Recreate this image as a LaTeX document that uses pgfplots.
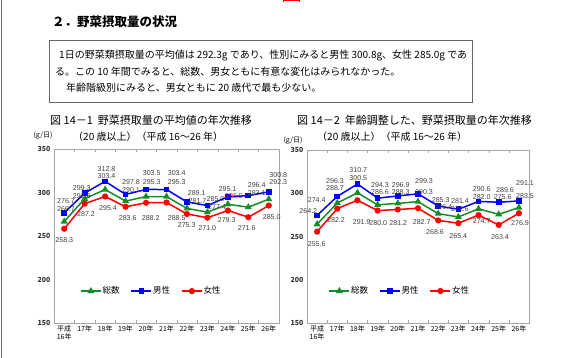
\documentclass[border=0pt]{standalone}
\usepackage{fontspec}
\setmainfont{Noto Sans CJK JP}
\newfontfamily\lab{Liberation Sans}
\usepackage{pgfplots}
\pgfplotsset{compat=1.18}
\definecolor{cgreen}{RGB}{20,140,40}
\definecolor{cblue}{RGB}{0,0,255}
\definecolor{cred}{RGB}{255,0,0}
\newcommand{\lbl}[3]{\node[font=\lab\fontsize{7.1}{8}\selectfont,text=black!75,inner sep=0pt] at ({#1pt},{358pt-#2pt}) {#3};}
\pgfplotsset{
  myax/.style={
    scale only axis, xmin=-0.5, xmax=10.5, ymin=150, ymax=350,
    ytick={150,200,...,350}, ytick style={draw=none},
    xtick={0,...,10},
    xticklabels={{平成\\16年},17年,18年,19年,20年,21年,22年,23年,24年,25年,26年},
    xticklabel style={align=center, font=\fontsize{7}{8.5}\selectfont, yshift=1pt},
    yticklabel style={font=\fontsize{7}{8}\selectfont\bfseries, text=black!80},
    /pgf/number format/assume math mode=true,
    major x tick style={draw=none},
    minor xtick={0.5,1.5,...,9.5}, minor tick length=3pt, tick align=inside,
    minor x tick style={gray!70},
    axis line style={gray!70},
    legend columns=3,
    legend style={draw=none, fill=none, font=\fontsize{8.5}{9}\selectfont, anchor=west,
      nodes={inner xsep=1pt, inner ysep=0pt},
      /tikz/every even column/.append style={column sep=10pt}},
    legend image code/.code={\draw[mark repeat=2,mark phase=2,#1] plot coordinates {(0pt,0pt) (10pt,0pt) (20pt,0pt)};},
  },
  tot/.style={cgreen, line width=1.5pt, mark=triangle*, mark size=2.6pt, mark options={solid}},
  mal/.style={cblue, line width=1.5pt, mark=square*, mark size=2.1pt},
  fem/.style={cred, line width=1.5pt, mark=*, mark size=2.3pt},
}
\begin{document}
\begin{tikzpicture}
\path[use as bounding box] (0,0) rectangle (562pt,358pt);
\draw[gray!80!black, line width=1pt] (1pt,0pt) -- (1pt,358pt);
\draw[red, line width=0.6pt] (283pt,356pt) -- (283pt,357.7pt) -- (299pt,357.7pt) -- (299pt,356pt);
% heading
\node[anchor=west, font=\fontsize{12.5}{14}\selectfont\bfseries, inner sep=0pt] at (52pt,{358pt-22pt}) {２．野菜摂取量の状況};
% box
\draw[gray!80!black, line width=0.7pt] (49pt,{358pt-40pt}) rectangle (472pt,{358pt-102pt});
\node[anchor=west, font=\fontsize{10}{12}\selectfont, inner sep=0pt] at (59pt,{358pt-56pt}) {1日の野菜類摂取量の平均値は 292.3g であり、性別にみると男性 300.8g、女性 285.0g であ};
\node[anchor=west, font=\fontsize{10}{12}\selectfont, inner sep=0pt] at (55pt,{358pt-72pt}) {る。この 10 年間でみると、総数、男女ともに有意な変化はみられなかった。};
\node[anchor=west, font=\fontsize{10}{12}\selectfont, inner sep=0pt] at (66pt,{358pt-88pt}) {年齢階級別にみると、男女ともに 20 歳代で最も少ない。};
% chart titles
\node[anchor=west, font=\fontsize{11}{12}\selectfont, inner sep=0pt] at (50pt,{358pt-120pt}) {図 14－1\ \ 野菜摂取量の平均値の年次推移};
\node[anchor=west, font=\fontsize{10}{12}\selectfont, inner sep=0pt] at (73pt,{358pt-137pt}) {（20 歳以上）（平成 16～26 年）};
\node[anchor=west, font=\fontsize{11}{12}\selectfont, inner sep=0pt] at (297pt,{358pt-120pt}) {図 14－2\ \ 年齢調整した、野菜摂取量の年次推移};
\node[anchor=west, font=\fontsize{10}{12}\selectfont, inner sep=0pt] at (317pt,{358pt-137pt}) {（20 歳以上）（平成 16～26 年）};
\node[font=\fontsize{7}{8}\selectfont, inner sep=0pt] at (43pt,{358pt-136pt}) {(g/日)};
\node[font=\fontsize{7}{8}\selectfont, inner sep=0pt] at (293pt,{358pt-141pt}) {(g/日)};

% ---------- chart 1
\begin{axis}[myax, at={(54pt,35pt)}, anchor=south west, width=225pt, height=174pt,
  legend style={at={(0.102,0.183)}}]
\addplot[tot] coordinates {(0,266.7)(1,292.8)(2,303.4)(3,290.1)(4,295.3)(5,295.3)(6,281.7)(7,277.4)(8,286.5)(9,283.1)(10,292.3)};
\addplot[mal] coordinates {(0,276.7)(1,299.3)(2,312.8)(3,297.8)(4,303.5)(5,303.4)(6,289.1)(7,285.0)(8,295.1)(9,296.4)(10,300.8)};
\addplot[fem] coordinates {(0,258.3)(1,287.2)(2,295.4)(3,283.6)(4,288.2)(5,288.5)(6,275.3)(7,271.0)(8,279.3)(9,271.6)(10,285.0)};
\legend{総数,男性,女性}
\end{axis}

% ---------- chart 2
\begin{axis}[myax, at={(307pt,35pt)}, anchor=south west, width=222pt, height=173pt,
  legend style={at={(0.083,0.185)}}]
\addplot[tot] coordinates {(0,264.2)(1,288.7)(2,300.5)(3,286.6)(4,288.3)(5,290.3)(6,276.4)(7,272.6)(8,282.0)(9,275.6)(10,283.5)};
\addplot[mal] coordinates {(0,274.4)(1,296.3)(2,310.7)(3,294.3)(4,296.9)(5,299.3)(6,285.3)(7,281.4)(8,290.6)(9,289.6)(10,291.1)};
\addplot[fem] coordinates {(0,255.6)(1,282.2)(2,291.9)(3,280.0)(4,281.2)(5,282.7)(6,268.6)(7,265.4)(8,274.7)(9,263.4)(10,276.9)};
\legend{総数,男性,女性}
\end{axis}

% labels chart 1
\lbl{66}{201.5}{276.7}\lbl{66}{209}{266.7}\lbl{64.3}{240}{258.3}
\lbl{81.7}{188.5}{299.3}\lbl{81.7}{196}{292.8}\lbl{86}{214.3}{287.2}
\lbl{106.5}{169}{312.8}\lbl{106.5}{176.5}{303.4}\lbl{108}{207.7}{295.4}
\lbl{131}{181.7}{297.8}\lbl{131}{190}{290.1}\lbl{127.7}{218.3}{283.6}
\lbl{151.7}{173.3}{303.5}\lbl{151.7}{181.7}{295.3}\lbl{150.7}{218.3}{288.2}
\lbl{176.7}{173.3}{303.4}\lbl{176.7}{181.7}{295.3}\lbl{176.7}{218.3}{288.5}
\lbl{196.7}{193.5}{289.1}\lbl{197.5}{201.5}{281.7}\lbl{186.7}{225}{275.3}
\lbl{215.5}{199}{285.0}\lbl{217}{206.8}{277.4}\lbl{207.3}{228.3}{271.0}
\lbl{227.5}{189}{295.1}\node[font=\lab\fontsize{7.1}{8}\selectfont,text=red,inner sep=0pt] at (234pt,{358pt-196.5pt}) {286.5};\lbl{226.7}{220}{279.3}
\lbl{256.7}{185.5}{296.4}\lbl{256.7}{193}{283.1}\lbl{246.7}{228.3}{271.6}
\lbl{278.3}{175}{300.8}\lbl{278.3}{182.5}{292.3}\lbl{271.7}{216.7}{285.0}
% labels chart 2
\lbl{316.7}{200}{274.4}\lbl{308.3}{210.7}{264.2}\lbl{316.7}{244}{255.6}
\lbl{335}{180.8}{296.3}\lbl{335}{188.3}{288.7}\lbl{336}{220}{282.2}
\lbl{358.3}{170}{310.7}\lbl{358.3}{177.7}{300.5}\lbl{361.7}{222.3}{291.9}
\lbl{380}{185}{294.3}\lbl{380}{192.5}{286.6}\lbl{378.3}{222.7}{280.0}
\lbl{400.7}{185}{296.9}\lbl{400.7}{192.5}{288.3}\lbl{398.3}{222.7}{281.2}
\lbl{424}{181}{299.3}\lbl{424}{192}{290.3}\lbl{421.7}{222.3}{282.7}
\lbl{440.7}{200}{285.3}\lbl{443.3}{207.5}{276.4}\lbl{435}{232}{268.6}
\lbl{460}{201.5}{281.4}\lbl{460}{209}{272.6}\lbl{458.3}{236}{265.4}
\lbl{481.7}{189.5}{290.6}\lbl{481.7}{197.3}{282.0}\lbl{481.7}{220.7}{274.7}
\lbl{505}{190}{289.6}\lbl{502.7}{197.5}{275.6}\lbl{500}{237.3}{263.4}
\lbl{525}{182.7}{291.1}\lbl{525}{196}{283.5}\lbl{520}{223.3}{276.9}
\end{tikzpicture}
\end{document}
